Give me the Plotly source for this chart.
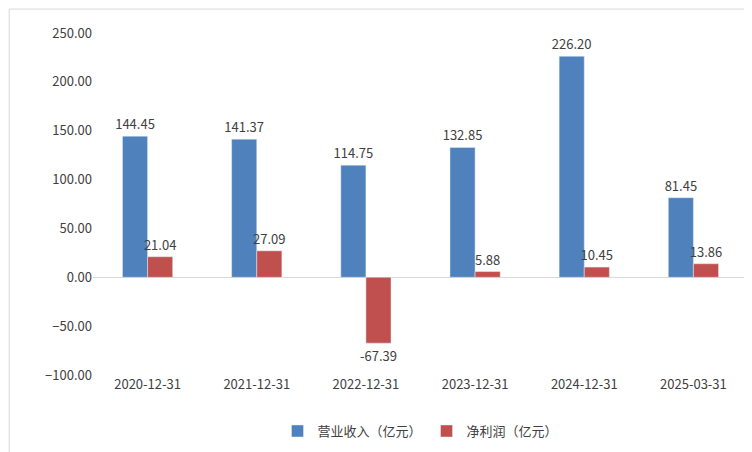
import plotly.graph_objects as go

dates = ['2020-12-31', '2021-12-31', '2022-12-31', '2023-12-31', '2024-12-31', '2025-03-31']
revenue = [144.45, 141.37, 114.75, 132.85, 226.20, 81.45]
profit = [21.04, 27.09, -67.39, 5.88, 10.45, 13.86]

font = dict(family="Noto Sans CJK SC, DejaVu Sans Mono", size=13, color="#404040")

fig = go.Figure()
fig.add_trace(go.Bar(x=dates, y=revenue, name='营业收入（亿元）', marker_color='#4f81bd',
                     text=['%.2f' % v for v in revenue], textposition='outside', cliponaxis=False,
                     constraintext='none'))
fig.add_trace(go.Bar(x=dates, y=profit, name='净利润（亿元）', marker_color='#c0504d',
                     text=['%.2f' % v for v in profit], textposition='outside', cliponaxis=False,
                     constraintext='none'))

fig.update_layout(
    width=752, height=452,
    margin=dict(l=85, r=12, t=25, b=85),
    plot_bgcolor='white', paper_bgcolor='white',
    font=font,
    barmode='group', bargap=0.54, bargroupgap=0,
    showlegend=True,
    legend=dict(orientation='h', x=0.5, xanchor='center', y=-0.12, yanchor='top',
                font=dict(size=13)),
    xaxis=dict(type='category', showline=False, ticks='', tickfont=dict(size=13)),
    yaxis=dict(range=[-100, 250], dtick=50, tickformat='.2f', showgrid=False,
               zeroline=True, zerolinecolor='#d9d9d9', zerolinewidth=1, tickfont=dict(size=13)),
    shapes=[dict(type='rect', xref='paper', yref='paper', x0=-0.128, x1=1.0168, y0=-0.245, y1=1.07,
                 line=dict(color='#d9d9d9', width=1))],
)
fig.update_traces(textfont=dict(size=13, color='#404040'))
fig.write_html("out.html")
